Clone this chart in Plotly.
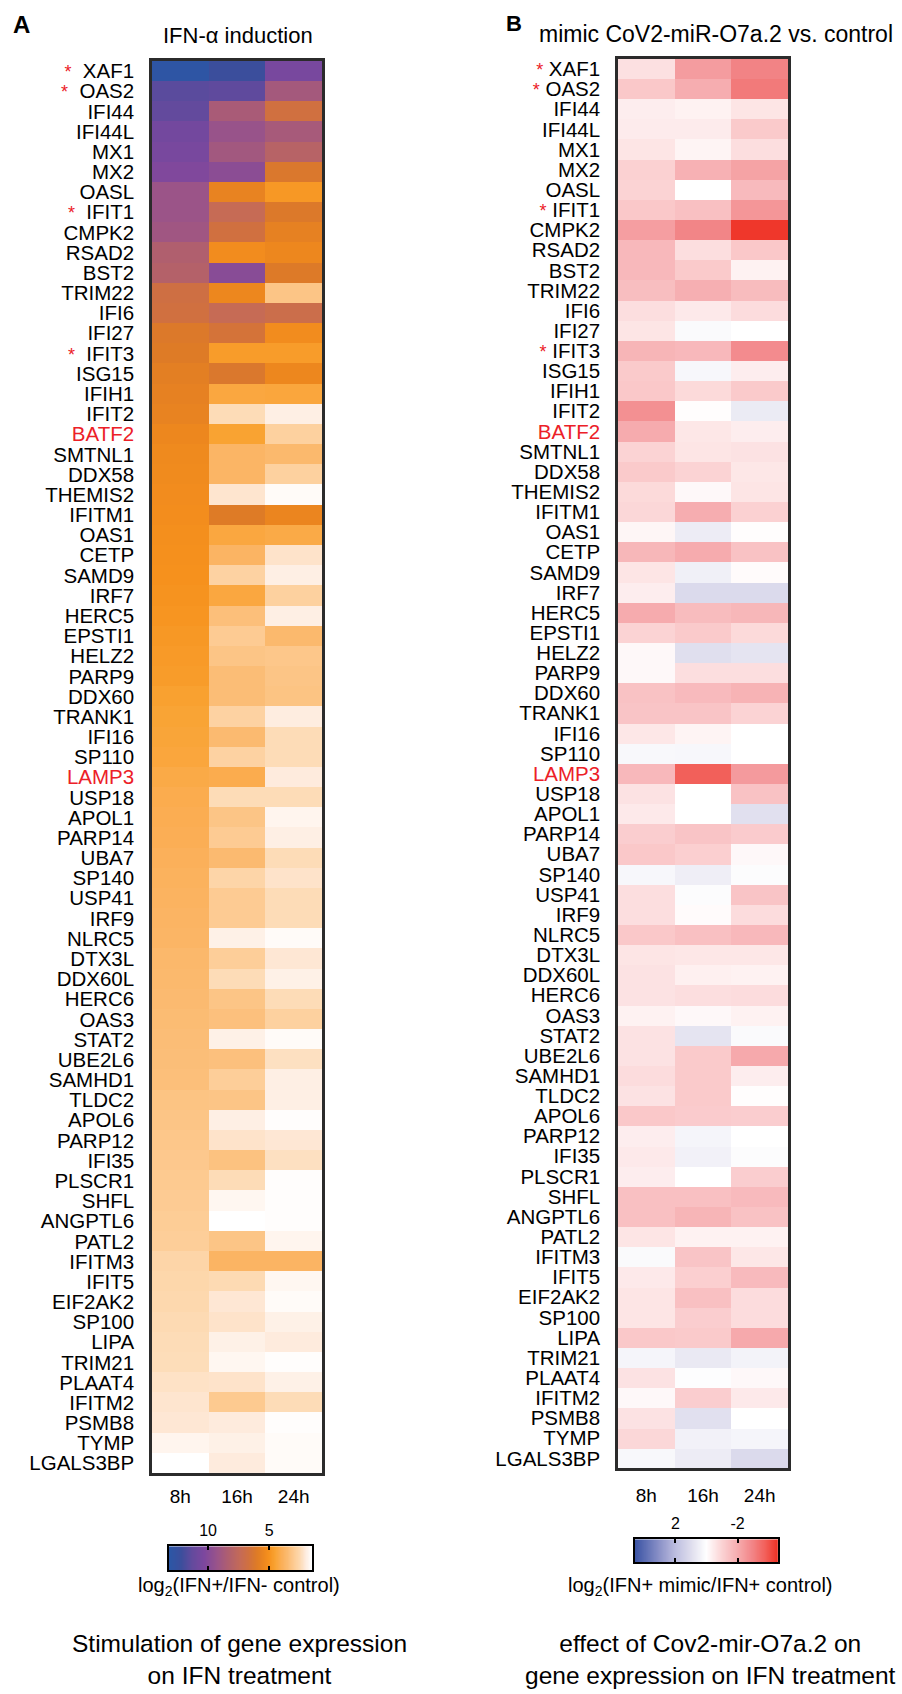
import numpy as np
import plotly.graph_objects as go

# ---------------- data ----------------
genes = ["XAF1", "OAS2", "IFI44", "IFI44L", "MX1", "MX2", "OASL", "IFIT1", "CMPK2", "RSAD2",
         "BST2", "TRIM22", "IFI6", "IFI27", "IFIT3", "ISG15", "IFIH1", "IFIT2", "BATF2", "SMTNL1",
         "DDX58", "THEMIS2", "IFITM1", "OAS1", "CETP", "SAMD9", "IRF7", "HERC5", "EPSTI1", "HELZ2",
         "PARP9", "DDX60", "TRANK1", "IFI16", "SP110", "LAMP3", "USP18", "APOL1", "PARP14", "UBA7",
         "SP140", "USP41", "IRF9", "NLRC5", "DTX3L", "DDX60L", "HERC6", "OAS3", "STAT2", "UBE2L6",
         "SAMHD1", "TLDC2", "APOL6", "PARP12", "IFI35", "PLSCR1", "SHFL", "ANGPTL6", "PATL2", "IFITM3",
         "IFIT5", "EIF2AK2", "SP100", "LIPA", "TRIM21", "PLAAT4", "IFITM2", "PSMB8", "TYMP", "LGALS3BP"]
times = ["8h", "16h", "24h"]
star_genes = ["XAF1", "OAS2", "IFIT1", "IFIT3"]
red_genes = ["BATF2", "LAMP3"]

# log2(IFN+/IFN- control)
left_8h = [13.0, 11.5, 11.3, 10.7, 10.5, 10.2, 9.2, 9.2, 9.0, 8.3,
           8.1, 6.8, 6.7, 6.1, 6.0, 5.8, 5.7, 5.6, 5.4, 5.3,
           5.25, 5.2, 5.15, 5.1, 5.05, 5.0, 4.95, 4.9, 4.8, 4.75,
           4.7, 4.55, 4.45, 4.4, 4.35, 4.2, 4.1, 4.05, 4.0, 3.9,
           3.85, 3.8, 3.75, 3.7, 3.6, 3.55, 3.5, 3.45, 3.4, 3.38,
           3.35, 3.2, 3.15, 3.1, 3.05, 3.0, 2.95, 2.9, 2.85, 2.6,
           2.55, 2.5, 2.45, 2.4, 2.38, 2.25, 2.15, 2.1, 1.75, 1.5]
left_16h = [12.2, 11.4, 8.6, 9.3, 8.9, 9.8, 5.6, 7.3, 6.7, 5.2,
            9.9, 5.4, 7.3, 6.5, 4.7, 6.2, 4.3, 2.4, 4.5, 3.7,
            3.7, 2.15, 6.0, 4.3, 3.75, 2.7, 4.3, 3.35, 2.95, 3.15,
            3.4, 3.4, 2.7, 3.5, 2.7, 4.1, 2.4, 3.15, 2.95, 3.5,
            2.6, 2.95, 2.95, 1.85, 2.85, 2.4, 3.15, 3.3, 1.85, 3.3,
            2.85, 3.15, 1.9, 2.2, 3.25, 2.4, 1.7, 1.5, 3.15, 3.75,
            2.45, 2.1, 2.2, 1.85, 1.7, 2.2, 3.0, 2.0, 1.85, 2.0]
left_24h = [10.5, 8.8, 6.7, 8.7, 8.0, 6.2, 4.8, 6.1, 5.7, 5.4,
            6.05, 3.15, 7.0, 5.2, 4.7, 5.4, 4.35, 1.9, 2.75, 3.55,
            2.75, 1.6, 5.5, 4.2, 2.2, 1.9, 2.75, 1.9, 3.55, 3.1,
            3.15, 3.2, 1.95, 2.4, 2.4, 2.0, 2.4, 1.75, 1.9, 2.4,
            2.2, 2.4, 2.4, 1.6, 2.1, 1.85, 2.4, 2.75, 1.6, 2.3,
            1.9, 1.9, 1.55, 2.1, 2.3, 1.55, 1.55, 1.55, 1.75, 3.75,
            1.7, 1.6, 1.85, 2.0, 1.55, 1.85, 2.4, 1.55, 1.6, 1.6]

# log2(IFN+ mimic/IFN+ control)
right_8h = [-0.7, -1.3, -0.4, -0.45, -0.6, -1.05, -1.0, -1.3, -2.35, -1.7,
            -1.7, -1.55, -0.75, -0.6, -1.8, -1.25, -1.3, -2.7, -2.05, -1.0,
            -1.25, -0.85, -0.9, -0.2, -1.75, -0.6, -0.4, -2.05, -1.0, -0.15,
            -0.15, -1.45, -1.4, -0.55, 0.2, -1.7, -0.65, -0.5, -1.15, -1.3,
            0.25, -0.75, -0.75, -1.3, -0.6, -0.65, -0.65, -0.3, -0.65, -0.65,
            -0.8, -0.65, -1.3, -0.4, -0.5, -0.4, -1.5, -1.5, -0.6, 0.15,
            -0.5, -0.6, -0.6, -1.3, 0.3, -0.65, -0.15, -0.65, -0.9, 0.2]
right_16h = [-2.4, -2.0, -0.3, -0.45, -0.25, -1.9, 0.0, -1.5, -2.95, -0.75,
             -1.25, -1.95, -0.5, 0.15, -1.7, 0.25, -0.85, -0.05, -0.55, -0.6,
             -1.0, -0.15, -2.0, 0.55, -2.05, 0.45, 1.1, -1.6, -1.25, 0.95,
             -0.75, -1.65, -1.4, -0.25, 0.25, -3.8, 0.0, 0.0, -1.4, -1.1,
             0.5, 0.1, -0.1, -1.5, -0.55, -0.35, -0.75, -0.15, 0.8, -1.25,
             -1.25, -1.25, -1.2, 0.3, 0.4, 0.0, -1.5, -1.8, -0.3, -1.4,
             -1.1, -1.5, -1.15, -1.25, 0.65, 0.05, -1.15, 0.9, 0.4, 0.55]
right_24h = [-3.0, -3.2, -0.6, -1.25, -0.75, -2.25, -1.65, -2.55, -4.5, -1.3,
             -0.3, -1.6, -0.8, 0.0, -2.8, -0.4, -1.25, 0.6, -0.4, -0.65,
             -0.55, -0.6, -1.05, -0.05, -1.45, -0.1, 1.1, -1.75, -0.85, 0.8,
             -0.75, -1.85, -1.0, 0.0, 0.0, -2.45, -1.45, 0.9, -1.2, -0.15,
             0.1, -1.4, -0.8, -1.7, -0.55, -0.3, -0.8, -0.3, 0.15, -2.1,
             -0.4, -0.05, -1.15, 0.0, 0.1, -1.15, -1.65, -1.45, -0.3, -0.55,
             -1.65, -0.8, -0.8, -2.1, 0.35, -0.15, -0.5, 0.0, 0.3, 1.1]

left_ticks = [10, 5]
right_ticks = [2, -2]
left_range = (1.5, 13.2)
right_range = (-4.6, 4.6)

# ---------------- styles ----------------
left_stops = [(1.5, "#ffffff"), (2.0, "#feebdd"), (2.5, "#fdd8ae"), (3.0, "#fdca90"),
              (3.5, "#fbba70"), (4.0, "#fbae55"), (4.5, "#f9a332"), (5.0, "#f6911d"),
              (5.4, "#ed871e"), (6.0, "#de7b26"), (6.7, "#d07040"), (7.3, "#c66b55"),
              (8.3, "#b05f6e"), (9.2, "#9b5488"), (10.3, "#7d479e"), (11.3, "#634a9d"),
              (12.2, "#3b4e9c"), (13.2, "#2b57a6")]
right_stops = [(-4.6, "#ee3124"), (-3.8, "#f2605a"), (-3.0, "#f28385"), (-2.0, "#f6adb0"),
               (-1.0, "#fbd3d4"), (0.0, "#ffffff"), (1.0, "#dedded"), (2.0, "#bcbddf"),
               (3.0, "#8c92c8"), (4.6, "#3a53a4")]


def make_scale(stops, lo, hi):
    return [[(v - lo) / (hi - lo), c] for v, c in stops]


W, H = 902, 1694
FONT = "Liberation Sans, Arial, Helvetica, sans-serif"
RED = "#ec2027"
BORDER = "#2b2b2b"


def dx(a, b):
    return [a / W, b / W]


def dy(top, bottom):
    return [1 - bottom / H, 1 - top / H]


def px(x):
    return x / W


def py(y):
    return 1 - y / H


def label(g, gap):
    t = f"<span style='color:{RED}'>{g}</span>" if g in red_genes else g
    if g in star_genes:
        t = f"<span style='color:{RED};font-size:18px'>*</span>{gap}{t}"
    return t


left_z = np.column_stack([left_8h, left_16h, left_24h])
right_z = np.column_stack([right_8h, right_16h, right_24h])

fig = go.Figure()
fig.add_trace(go.Heatmap(x=times, y=genes, z=left_z, coloraxis="coloraxis",
                         xaxis="x", yaxis="y", hoverinfo="skip"))
fig.add_trace(go.Heatmap(x=times, y=genes, z=right_z, coloraxis="coloraxis2",
                         xaxis="x2", yaxis="y2", hoverinfo="skip"))

lv = np.linspace(left_range[1], left_range[0], 400)
rv = np.linspace(right_range[1], right_range[0], 400)
fig.add_trace(go.Heatmap(x=lv, y=[0], z=[lv], coloraxis="coloraxis",
                         xaxis="x3", yaxis="y3", hoverinfo="skip"))
fig.add_trace(go.Heatmap(x=rv, y=[0], z=[rv], coloraxis="coloraxis2",
                         xaxis="x4", yaxis="y4", hoverinfo="skip"))

heat_x = dict(showline=True, mirror=True, linecolor=BORDER, linewidth=2.5, ticks="",
              showgrid=False, zeroline=False, tickfont=dict(size=19, color="black"))
heat_y = dict(showline=True, mirror=True, linecolor=BORDER, linewidth=2.5, ticks="",
              showgrid=False, zeroline=False, autorange="reversed",
              tickfont=dict(size=20.5, color="black"), ticklabelstandoff=11, tickvals=genes)
cb_x = dict(showline=True, mirror="ticks", linecolor="black", linewidth=1.5, ticks="inside",
            ticklen=4, tickwidth=2, tickcolor="black", side="top", showgrid=False,
            zeroline=False, tickfont=dict(size=16, color="black"), ticklabelstandoff=2)
cb_y = dict(showline=True, mirror=True, linecolor="black", linewidth=1.5, ticks="",
            showticklabels=False, showgrid=False, zeroline=False, range=[-0.5, 0.5])

fig.update_layout(
    width=W, height=H, margin=dict(l=0, r=0, t=0, b=0),
    paper_bgcolor="white", plot_bgcolor="white", showlegend=False,
    font=dict(family=FONT, color="black"),
    coloraxis=dict(colorscale=make_scale(left_stops, *left_range), cmin=left_range[0],
                   cmax=left_range[1], showscale=False),
    coloraxis2=dict(colorscale=make_scale(right_stops, *right_range), cmin=right_range[0],
                    cmax=right_range[1], showscale=False),
    xaxis=dict(heat_x, domain=dx(152, 322), anchor="y", ticklabelstandoff=4),
    yaxis=dict(heat_y, domain=dy(59, 1474), anchor="x",
               ticktext=[label(g, "\u00a0\u00a0") for g in genes]),
    xaxis2=dict(heat_x, domain=dx(618, 788), anchor="y2", ticklabelstandoff=8),
    yaxis2=dict(heat_y, domain=dy(57, 1469), anchor="x2",
                ticktext=[label(g, "\u00a0") for g in genes]),
    xaxis3=dict(cb_x, domain=dx(169, 312), anchor="y3", range=[left_range[1], left_range[0]],
                tickvals=left_ticks, ticktext=[str(t) for t in left_ticks]),
    yaxis3=dict(cb_y, domain=dy(1547, 1571), anchor="x3"),
    xaxis4=dict(cb_x, domain=dx(635, 778), anchor="y4", range=[right_range[1], right_range[0]],
                tickvals=right_ticks, ticktext=[str(t) for t in right_ticks]),
    yaxis4=dict(cb_y, domain=dy(1540, 1563), anchor="x4"),
)

ann = [
    dict(text="<b>A</b>", x=px(11), y=py(23), xanchor="left", yanchor="middle", size=24),
    dict(text="<b>B</b>", x=px(504), y=py(22), xanchor="left", yanchor="middle", size=22),
    dict(text="IFN-\u03b1 induction", x=px(238), y=py(34), xanchor="center", yanchor="middle", size=22),
    dict(text="mimic CoV2-miR-O7a.2 vs. control", x=px(716), y=py(32), xanchor="center",
         yanchor="middle", size=23),
    dict(text="log<sub>2</sub>(IFN+/IFN- control)", x=px(239), y=py(1587), xanchor="center",
         yanchor="middle", size=20),
    dict(text="log<sub>2</sub>(IFN+ mimic/IFN+ control)", x=px(700), y=py(1587), xanchor="center",
         yanchor="middle", size=20),
    dict(text="Stimulation of gene expression<br>on IFN treatment", x=px(239), y=py(1660),
         xanchor="center", yanchor="middle", size=24.5),
    dict(text="effect of Cov2-mir-O7a.2 on<br>gene expression on IFN treatment", x=px(710),
         y=py(1660), xanchor="center", yanchor="middle", size=24.5),
]
for a in ann:
    fig.add_annotation(text=a["text"], x=a["x"], y=a["y"], xref="paper", yref="paper",
                       xanchor=a["xanchor"], yanchor=a["yanchor"], showarrow=False,
                       align="center", font=dict(family=FONT, size=a["size"], color="black"))

fig.write_html("out.html", config={"displayModeBar": False},
               post_script="document.body.style.margin='0';document.body.style.overflow='hidden';")
